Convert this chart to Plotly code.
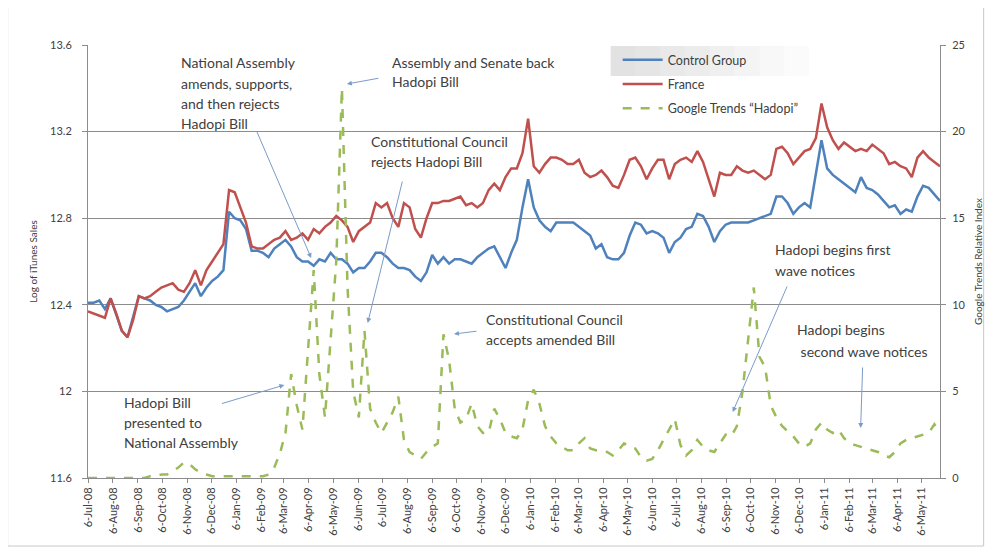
import pandas as pd
import plotly.graph_objects as go

start_date = "2008-07-06"
n_weeks = 152
dates = pd.date_range(start_date, periods=n_weeks, freq="7D")

control_group = [
    12.41, 12.41, 12.42, 12.38, 12.43, 12.35, 12.28, 12.25, 12.34, 12.44,
    12.43, 12.42, 12.40, 12.39, 12.37, 12.38, 12.39, 12.42, 12.46, 12.50,
    12.44, 12.48, 12.51, 12.53, 12.56, 12.83, 12.80, 12.79, 12.75, 12.65,
    12.65, 12.64, 12.62, 12.66, 12.68, 12.70, 12.67, 12.62, 12.60, 12.60,
    12.58, 12.61, 12.60, 12.64, 12.61, 12.61, 12.59, 12.55, 12.57, 12.57,
    12.60, 12.64, 12.64, 12.62, 12.59, 12.57, 12.57, 12.56, 12.53, 12.51,
    12.55, 12.63, 12.59, 12.62, 12.59, 12.61, 12.61, 12.60, 12.59, 12.62,
    12.64, 12.66, 12.67, 12.62, 12.57, 12.64, 12.70, 12.85, 12.98, 12.85,
    12.79, 12.76, 12.74, 12.78, 12.78, 12.78, 12.78, 12.76, 12.74, 12.72,
    12.66, 12.68, 12.62, 12.61, 12.61, 12.64, 12.72, 12.78, 12.77, 12.73,
    12.74, 12.73, 12.71, 12.64, 12.69, 12.71, 12.75, 12.76, 12.82, 12.81,
    12.76, 12.69, 12.74, 12.77, 12.78, 12.78, 12.78, 12.78, 12.79, 12.80,
    12.81, 12.82, 12.90, 12.90, 12.87, 12.82, 12.85, 12.87, 12.85, 13.00,
    13.16, 13.03, 13.00, 12.98, 12.96, 12.94, 12.92, 12.99, 12.94, 12.93,
    12.91, 12.88, 12.85, 12.86, 12.82, 12.84, 12.83, 12.90, 12.95, 12.94,
    12.91, 12.88,
]

france = [
    12.37, 12.36, 12.35, 12.34, 12.43, 12.36, 12.28, 12.25, 12.33, 12.44,
    12.43, 12.44, 12.46, 12.48, 12.49, 12.50, 12.47, 12.46, 12.50, 12.56,
    12.49, 12.56, 12.60, 12.64, 12.68, 12.93, 12.92, 12.85, 12.78, 12.67,
    12.66, 12.66, 12.68, 12.70, 12.71, 12.74, 12.70, 12.71, 12.73, 12.70,
    12.75, 12.73, 12.76, 12.78, 12.81, 12.79, 12.76, 12.69, 12.74, 12.76,
    12.78, 12.87, 12.85, 12.87, 12.80, 12.76, 12.87, 12.85, 12.75, 12.71,
    12.80, 12.87, 12.87, 12.88, 12.88, 12.89, 12.90, 12.86, 12.87, 12.85,
    12.87, 12.93, 12.96, 12.93, 12.99, 13.03, 13.03, 13.10, 13.26, 13.04,
    13.01, 13.05, 13.08, 13.08, 13.07, 13.05, 13.05, 13.07, 13.01, 12.99,
    13.00, 13.02, 12.99, 12.95, 12.94, 13.00, 13.07, 13.08, 13.04, 12.98,
    13.03, 13.07, 13.07, 12.98, 13.05, 13.07, 13.08, 13.06, 13.11, 13.06,
    12.98, 12.90, 13.01, 13.00, 13.00, 13.04, 13.02, 13.01, 13.02, 13.00,
    12.98, 13.00, 13.12, 13.13, 13.10, 13.05, 13.08, 13.11, 13.12, 13.17,
    13.33, 13.22, 13.16, 13.12, 13.15, 13.13, 13.11, 13.12, 13.11, 13.14,
    13.12, 13.10, 13.05, 13.06, 13.04, 13.03, 12.99, 13.08, 13.11, 13.08,
    13.06, 13.04,
]

google_trends = [
    0, 0, 0, 0, 0, 0, 0, 0, 0, 0,
    0, 0.1, 0.1, 0.2, 0.2, 0.4, 0.6, 0.9, 0.8, 0.5,
    0.3, 0.2, 0.1, 0.1, 0.1, 0.1, 0.1, 0.1, 0.1, 0.1,
    0.1, 0.1, 0.2, 0.6, 1.4, 2.6, 6.0, 4.2, 2.8, 7.5,
    12.0, 6.0, 3.5, 8.0, 12.5, 22.5, 11.0, 5.0, 3.5, 8.5,
    4.0, 3.2, 2.6, 3.2, 3.8, 4.7, 2.2, 1.5, 1.3, 1.1,
    1.5, 1.8, 2.0, 8.3, 6.8, 4.0, 3.2, 3.4, 4.3, 3.0,
    2.6, 2.6, 4.0, 3.4, 2.6, 2.4, 2.3, 2.8, 4.5, 5.1,
    4.3, 3.0, 2.4, 2.0, 1.8, 1.6, 1.6, 2.0, 2.3, 1.7,
    1.6, 1.6, 1.5, 1.3, 1.6, 2.0, 1.8, 1.7, 1.2, 1.0,
    1.1, 1.6, 2.2, 2.8, 3.4, 1.9, 1.3, 1.6, 2.2, 1.8,
    1.6, 1.5, 2.0, 2.5, 2.4, 3.0, 5.0, 8.0, 11.0, 7.0,
    6.4, 4.2, 3.5, 3.0, 2.7, 2.4, 2.0, 1.8, 2.0, 2.8,
    3.2, 2.8, 2.6, 2.8, 2.3, 2.0, 1.9, 1.8, 1.7, 1.6,
    1.5, 1.3, 1.2, 1.5, 2.0, 2.2, 2.3, 2.4, 2.5, 2.6,
    3.1, 2.6,
]

left_tick_vals = [11.6, 12.0, 12.4, 12.8, 13.2, 13.6]
left_tick_text = ["11.6", "12", "12.4", "12.8", "13.2", "13.6"]
right_tick_vals = [0, 5, 10, 15, 20, 25]

series_names = ["Control Group", "France", "Google Trends \u201cHadopi\u201d"]

FONT = "Lato"
TXT = "#404040"
GRID = "#8c8c8c"
ARROW = "#7b9bc8"

# page offset (browser body margin) compensation
OFF = 8
W, H = 995 - OFF, 556 - OFF
# plot area in reference-pixel coordinates
L, R, T, B = 88, 947, 45, 478


def px(x):
    return (x - L) / (R - L)


def py(y):
    return (B - y) / (B - T)


fig = go.Figure()
fig.add_trace(go.Scatter(x=dates, y=control_group, name=series_names[0], mode="lines",
                         line=dict(color="#4F81BD", width=2.5), legendgroup="a"))
fig.add_trace(go.Scatter(x=dates, y=france, name=series_names[1], mode="lines",
                         line=dict(color="#C0504D", width=2.5), legendgroup="b"))
fig.add_trace(go.Scatter(x=dates, y=google_trends, name=series_names[2], mode="lines",
                         yaxis="y2", line=dict(color="#9BBB59", width=2.5, dash="dash"),
                         legendgroup="c"))

annotations = []


def add_text(lines, x, ys, size=14):
    for line, y in zip(lines, ys):
        annotations.append(dict(text=line, xref="paper", yref="paper", x=px(x), y=py(y),
                                xanchor="left", yanchor="middle", showarrow=False,
                                font=dict(family=FONT, size=size, color=TXT)))


def add_arrow(tail, head):
    annotations.append(dict(text="", xref="paper", yref="paper", axref="pixel", ayref="pixel",
                            x=px(head[0]), y=py(head[1]),
                            ax=tail[0] - head[0], ay=tail[1] - head[1],
                            showarrow=True, arrowhead=2, arrowsize=1, arrowwidth=1,
                            arrowcolor=ARROW, standoff=0, startstandoff=0))


add_text(["National Assembly", "amends, supports,", "and then rejects", "Hadopi Bill"],
         180, [63, 84, 104, 123])
add_arrow((258, 130), (313, 258))
add_text(["Assembly and Senate back", "Hadopi Bill"], 392, [62, 81])
add_arrow((382, 78), (349, 84))
add_text(["Constitutional Council", "rejects Hadopi Bill"], 371, [142, 161])
add_arrow((405, 180), (370, 323))
add_text(["Hadopi Bill", "presented to", "National Assembly"], 122, [402, 422, 442])
add_arrow((222, 404), (286, 385))
add_text(["Constitutional Council", "accepts amended Bill"], 487, [319, 339])
add_arrow((481, 331), (457, 334))
add_text(["Hadopi begins first", "wave notices"], 779, [249, 270])
add_arrow((793, 285), (738, 412))
add_text(["Hadopi begins", " second wave notices"], 801, [329, 351])
add_arrow((869, 366), (867, 428))

shapes = [dict(type="rect", xref="paper", yref="paper", x0=px(7), x1=px(991),
               y0=py(546), y1=py(7), line=dict(color="#c8c8c8", width=1),
               fillcolor="rgba(0,0,0,0)", layer="below")]
# soft grey band behind the first legend row
for k in range(8):
    x0 = 615 + k * 25
    shapes.append(dict(type="rect", xref="paper", yref="paper", x0=px(x0), x1=px(x0 + 25),
                       y0=py(76), y1=py(46), line=dict(width=0),
                       fillcolor="rgba(150,150,150,%.3f)" % (0.28 * (1 - k / 8)),
                       layer="below"))

fig.update_layout(
    width=W, height=H,
    margin=dict(l=L - OFF, r=995 - R, t=T - OFF, b=556 - B),
    paper_bgcolor="white", plot_bgcolor="white",
    font=dict(family=FONT, color=TXT),
    showlegend=True,
    legend=dict(x=px(622), y=py(45), xanchor="left", yanchor="top",
                bgcolor="rgba(0,0,0,0)", font=dict(family=FONT, size=12.5, color=TXT),
                tracegroupgap=5, itemwidth=40),
    annotations=annotations,
    shapes=shapes,
    xaxis=dict(type="date", range=[dates[0], dates[-1]], tick0=start_date, dtick="M1",
               tickformat="%-d-%b-%y", tickangle=-90, ticks="outside", ticklen=4,
               tickcolor=GRID, showline=True, linecolor=GRID, showgrid=False,
               zeroline=False, tickfont=dict(family=FONT, size=11, color=TXT)),
    yaxis=dict(range=[11.6, 13.6], tickvals=left_tick_vals, ticktext=left_tick_text,
               showgrid=True, gridcolor=GRID, gridwidth=1, showline=True, linecolor=GRID,
               ticks="outside", ticklen=5, tickcolor=GRID, zeroline=False,
               ticklabelstandoff=8,
               tickfont=dict(family=FONT, size=11, color=TXT),
               title=dict(text="Log of iTunes Sales", standoff=10,
                          font=dict(family=FONT, size=10, color=TXT))),
    yaxis2=dict(range=[0, 25], tickvals=right_tick_vals, overlaying="y", side="right",
                showgrid=False, showline=True, linecolor=GRID, ticks="outside", ticklen=5,
                tickcolor=GRID, zeroline=False, ticklabelstandoff=4,
                tickfont=dict(family=FONT, size=11, color=TXT),
                title=dict(text="Google Trends Relative Index", standoff=10,
                           font=dict(family=FONT, size=10, color=TXT))),
)

fig.write_html("out.html")
